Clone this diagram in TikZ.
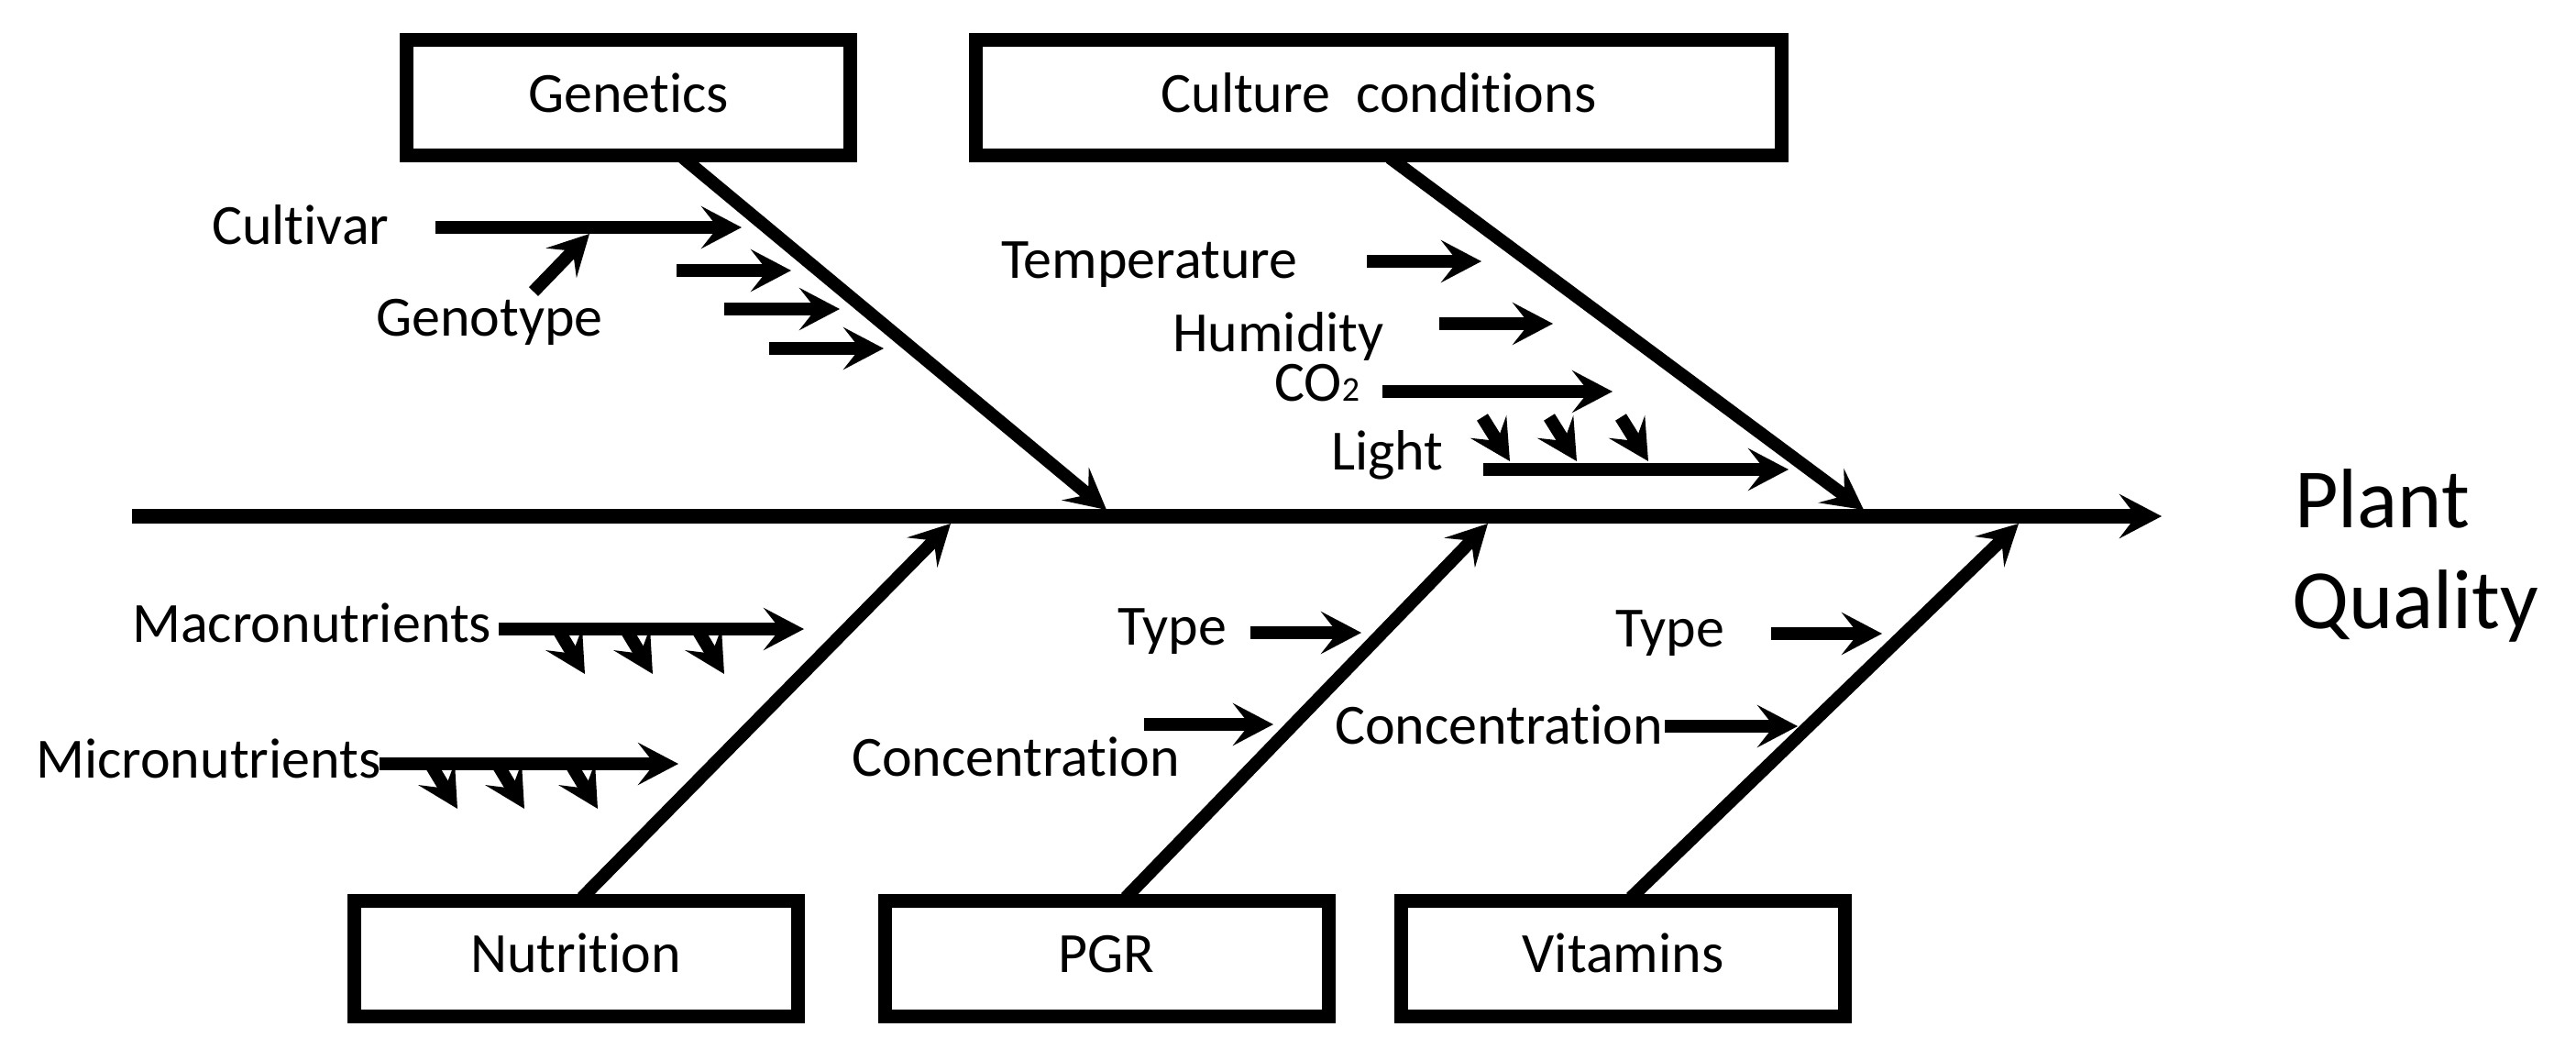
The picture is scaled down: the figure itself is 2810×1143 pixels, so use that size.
\documentclass[tikz,border=0pt]{standalone}
\usepackage{fontspec}
\setmainfont[Ligatures=NoCommon]{Carlito}
\usetikzlibrary{arrows.meta}
\begin{document}
\begin{tikzpicture}[x=1pt,y=-1pt,
  font=\fontsize{62}{74}\selectfont,
  box/.style={draw, line width=15pt, inner sep=0pt, minimum width=484pt, minimum height=126pt, text height=36pt, text depth=5pt},
  arr/.style={line width=14pt, -{Stealth[length=44pt,width=46pt,inset=18pt]}},
  lbl/.style={anchor=base west, inner sep=0pt}]
\useasboundingbox (0,0) rectangle (2810,1143);

% category boxes
\node[box] (gen) at (685.5,106.5) {Genetics};
\node[box, minimum width=879pt] (cul) at (1504,106.5) {Culture\ \ conditions};
\node[box] (nut) at (628,1045) {Nutrition};
\node[box] (pgr) at (1207,1045) {PGR};
\node[box] (vit) at (1770.5,1045) {Vitamins};

% spine
\coordinate (s0) at (144,563);
\coordinate (s1) at (2358,563);
\draw[line width=16pt, -{Stealth[length=46pt,width=48pt,inset=18pt]}] (s0) -- (s1);
\node[lbl, font=\fontsize{92}{110}\selectfont] (pq1) at (2503,575) {Plant};
\node[lbl, font=\fontsize{92}{110}\selectfont] (pq2) at (2500,685) {Quality};

% bones
\coordinate (gA) at (745,172);  \coordinate (gB) at (1207,556);
\coordinate (cA) at (1516,172); \coordinate (cB) at (2033,556);
\coordinate (nA) at (635,979);  \coordinate (nB) at (1037,571);
\coordinate (pA) at (1228,979); \coordinate (pB) at (1623,571);
\coordinate (vA) at (1779,979); \coordinate (vB) at (2202,571);
\draw[arr] (gA) -- (gB);
\draw[arr] (cA) -- (cB);
\draw[arr] (nA) -- (nB);
\draw[arr] (pA) -- (pB);
\draw[arr] (vA) -- (vB);

% Genetics causes
\node[lbl] (cultivar) at (231,266) {Cultivar};
\node[lbl] (genotype) at (410,366) {Genotype};
\coordinate (cu0) at (475,248); \coordinate (cu1) at (809,248);
\draw[arr] (cu0) -- (cu1);
\coordinate (gt0) at (582,318); \coordinate (gt1) at (643,255);
\draw[arr] (gt0) -- (gt1);
\coordinate (g20) at (738,295); \coordinate (g21) at (863,295);
\coordinate (g30) at (790,337); \coordinate (g31) at (916,337);
\coordinate (g40) at (839,380); \coordinate (g41) at (964,380);
\draw[arr] (g20) -- (g21);
\draw[arr] (g30) -- (g31);
\draw[arr] (g40) -- (g41);

% Culture conditions causes
\node[lbl] (temp) at (1092,303) {Temperature};
\node[lbl] (hum) at (1279,383) {Humidity};
\node[lbl] (co2) at (1390,437) {CO{\fontsize{38}{40}\selectfont 2}};
\node[lbl] (light) at (1452,512) {Light};
\coordinate (t0) at (1491,285); \coordinate (t1) at (1616,285);
\coordinate (h0) at (1570,353); \coordinate (h1) at (1694,353);
\coordinate (o0) at (1508,427); \coordinate (o1) at (1759,427);
\coordinate (l0) at (1618,512); \coordinate (l1) at (1951,512);
\draw[arr] (t0) -- (t1);
\draw[arr] (h0) -- (h1);
\draw[arr] (o0) -- (o1);
\draw[arr] (l0) -- (l1);
\coordinate (la0) at (1617,455); \coordinate (la1) at (1647,503);
\coordinate (lb0) at (1690,455); \coordinate (lb1) at (1720,503);
\coordinate (lc0) at (1768,455); \coordinate (lc1) at (1798,503);
\draw[arr] (la0) -- (la1);
\draw[arr] (lb0) -- (lb1);
\draw[arr] (lc0) -- (lc1);

% Nutrition causes
\node[lbl] (macro) at (144,700) {Macronutrients};
\node[lbl] (micro) at (39,848) {Micronutrients};
\coordinate (ma0) at (544,686); \coordinate (ma1) at (877,686);
\coordinate (mi0) at (414,833); \coordinate (mi1) at (740,833);
\draw[arr] (ma0) -- (ma1);
\draw[arr] (mi0) -- (mi1);
\coordinate (mx10) at (609,687); \coordinate (mx11) at (638,735);
\coordinate (mx20) at (683,687); \coordinate (mx21) at (712,735);
\coordinate (mx30) at (761,687); \coordinate (mx31) at (790,735);
\draw[arr] (mx10) -- (mx11);
\draw[arr] (mx20) -- (mx21);
\draw[arr] (mx30) -- (mx31);
\coordinate (my10) at (470,834); \coordinate (my11) at (499,882);
\coordinate (my20) at (543,834); \coordinate (my21) at (572,882);
\coordinate (my30) at (623,834); \coordinate (my31) at (652,882);
\draw[arr] (my10) -- (my11);
\draw[arr] (my20) -- (my21);
\draw[arr] (my30) -- (my31);

% PGR causes
\node[lbl] (ptype) at (1219,703) {Type};
\node[lbl] (pconc) at (929,846) {Concentration};
\coordinate (pt0) at (1364,690); \coordinate (pt1) at (1485,690);
\coordinate (pc0) at (1248,790); \coordinate (pc1) at (1389,790);
\draw[arr] (pt0) -- (pt1);
\draw[arr] (pc0) -- (pc1);

% Vitamins causes
\node[lbl] (vtype) at (1762,705) {Type};
\node[lbl] (vconc) at (1456,811) {Concentration};
\coordinate (vt0) at (1932,691); \coordinate (vt1) at (2053,691);
\coordinate (vc0) at (1816,792); \coordinate (vc1) at (1961,792);
\draw[arr] (vt0) -- (vt1);
\draw[arr] (vc0) -- (vc1);
\end{tikzpicture}
\end{document}
